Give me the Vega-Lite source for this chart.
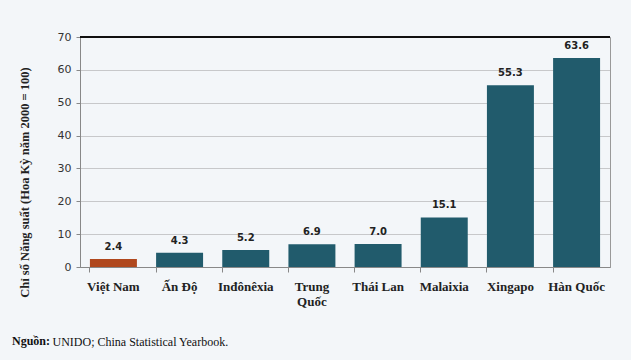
{
  "$schema": "https://vega.github.io/schema/vega-lite/v6.json",
  "width": 530,
  "height": 230,
  "autosize": {"type": "none"},
  "padding": {"left": 80, "top": 37, "right": 21, "bottom": 93},
  "background": "#f3f6f9",
  "title": {
    "text": "Nguồn:",
    "orient": "bottom",
    "anchor": "start",
    "frame": "group",
    "dx": -68,
    "dy": -11,
    "offset": 0,
    "font": "Liberation Serif",
    "fontSize": 12,
    "fontWeight": "bold",
    "color": "#111"
  },
  "config": {
    "view": {"stroke": "#999", "strokeWidth": 1}
  },
  "data": {
    "values": [
      {"country": "Việt Nam", "value": 2.4},
      {"country": "Ấn Độ", "value": 4.3},
      {"country": "Inđônêxia", "value": 5.2},
      {"country": "Trung Quốc", "value": 6.9},
      {"country": "Thái Lan", "value": 7.0},
      {"country": "Malaixia", "value": 15.1},
      {"country": "Xingapo", "value": 55.3},
      {"country": "Hàn Quốc", "value": 63.6}
    ]
  },
  "encoding": {
    "x": {
      "field": "country",
      "type": "nominal",
      "sort": null,
      "scale": {"paddingInner": 0.29, "paddingOuter": 0.15},
      "axis": {
        "title": "UNIDO; China Statistical Yearbook.",
        "titleX": -28,
        "titleY": 78,
        "titleAnchor": "start",
        "titleAlign": "left",
        "titleBaseline": "alphabetic",
        "titleFont": "Liberation Serif",
        "titleFontSize": 12,
        "titleFontWeight": "normal",
        "titleColor": "#111",
        "labelAngle": 0,
        "labelFont": "Liberation Serif",
        "labelFontSize": 13,
        "labelFontWeight": "bold",
        "labelColor": "#222",
        "labelPadding": 8,
        "labelLineHeight": 15,
        "labelExpr": "datum.label == 'Trung Quốc' ? ['Trung', 'Quốc'] : datum.label",
        "domainColor": "#888",
        "tickColor": "#888",
        "tickSize": 5,
        "bandPosition": 0
      }
    },
    "y": {
      "field": "value",
      "type": "quantitative",
      "scale": {"domain": [0, 70]},
      "axis": {
        "values": [0, 10, 20, 30, 40, 50, 60, 70],
        "title": "Chỉ số Năng suất (Hoa Kỳ năm 2000 = 100)",
        "titleFont": "Liberation Serif",
        "titleFontSize": 12.5,
        "titleFontWeight": "bold",
        "titleColor": "#222",
        "titlePadding": 26,
        "titleY": 145,
        "labelFont": "DejaVu Sans",
        "labelFontSize": 11,
        "labelColor": "#333",
        "labelPadding": 5,
        "domainColor": "#888",
        "tickColor": "#888",
        "tickSize": 4,
        "gridColor": "#9a9a9a",
        "gridDash": [1, 1],
        "gridWidth": 1
      }
    }
  },
  "layer": [
    {
      "mark": {"type": "bar"},
      "encoding": {
        "color": {
          "condition": {"test": "datum.country === 'Việt Nam'", "value": "#b0481e"},
          "value": "#215b6c"
        }
      }
    },
    {
      "mark": {
        "type": "text",
        "baseline": "alphabetic",
        "dy": -9,
        "font": "DejaVu Sans",
        "fontSize": 10,
        "fontWeight": "bold",
        "color": "#222"
      },
      "encoding": {
        "text": {"field": "value", "type": "quantitative", "format": ".1f"}
      }
    },
    {
      "mark": {"type": "rule", "color": "#111", "strokeWidth": 1.5},
      "encoding": {"y": {"datum": 70}, "x": {"value": 0}, "x2": {"value": 530}}
    }
  ]
}
